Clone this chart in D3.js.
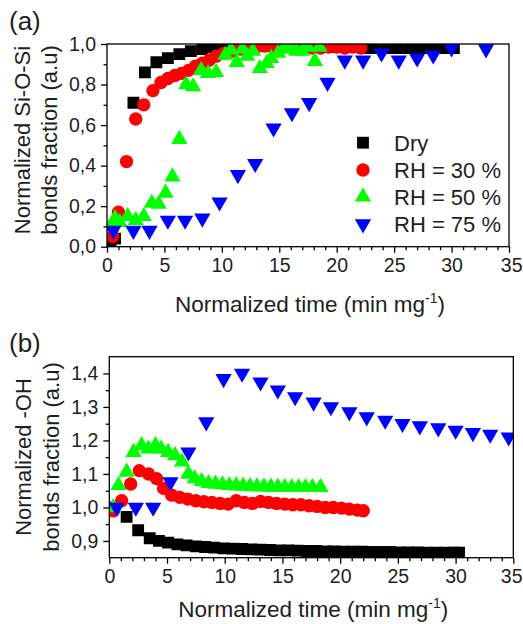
<!DOCTYPE html>
<html>
<head>
<meta charset="utf-8">
<script src="https://cdn.jsdelivr.net/npm/d3@7"></script>
<style>
  html, body { margin: 0; padding: 0; background: #fff; }
  svg { display: block; font-family: "Liberation Sans", Arial, sans-serif; }
</style>
</head>
<body>
<svg id="chart" width="523" height="624"></svg>
<script>
// ---------------- DATA ----------------
const seriesNames = ["Dry", "RH = 30 %", "RH = 50 %", "RH = 75 %"];
const seriesColors = ["#000000", "#ff0000", "#00ff00", "#0000ff"];

// Panel (a): Normalized Si-O-Si bonds fraction
const dryA_x = [0.3, 0.7, 2.3, 3.3, 4.3, 5.3, 6.3, 7.3, 8.3, 9.3, 10.3, 11.3, 12.3, 13.3, 14.3, 15.3, 16.3, 17.3, 18.3, 19.3, 20.3, 21.3, 22.3, 23.3, 24.3, 25.3, 26.3, 27.3, 28.3, 29.3, 30.2];
const dryA_y = [0.02, 0.04, 0.71, 0.86, 0.91, 0.93, 0.95, 0.965, 0.975, 0.985, 0.99, 0.99, 0.99, 0.99, 0.99, 0.99, 0.99, 0.99, 0.985, 0.985, 0.985, 0.985, 0.98, 0.98, 0.98, 0.98, 0.98, 0.98, 0.98, 0.98, 0.98];

const rh30A_x = [0.5, 1.0, 1.7, 2.5, 3.2, 4.0, 4.7, 5.3, 5.9, 6.5, 7.1, 7.7, 8.3, 8.9, 9.5, 10.2, 10.9, 11.6, 12.3, 13.0, 13.7, 14.4, 15.1, 15.8, 16.5, 17.2, 17.9, 18.6, 19.3, 20.0, 20.7, 21.4, 22.1];
const rh30A_y = [0.05, 0.17, 0.42, 0.63, 0.70, 0.77, 0.81, 0.83, 0.845, 0.855, 0.87, 0.89, 0.905, 0.92, 0.94, 0.955, 0.965, 0.975, 0.98, 0.985, 0.99, 0.985, 0.985, 0.99, 0.99, 0.985, 0.98, 0.98, 0.985, 0.985, 0.98, 0.985, 0.98];

const rh50A_x = [0.3, 0.7, 1.1, 1.8, 2.5, 3.2, 3.9, 4.5, 5.1, 5.7, 6.3, 6.9, 7.5, 8.2, 8.8, 9.5, 10.3, 10.8, 11.3, 11.8, 12.2, 12.7, 13.3, 13.9, 14.3, 14.9, 15.5, 16.0, 16.5, 17.0, 17.5, 18.1, 18.5];
const rh50A_y = [0.10, 0.14, 0.12, 0.15, 0.13, 0.15, 0.215, 0.21, 0.265, 0.345, 0.53, 0.80, 0.79, 0.87, 0.855, 0.86, 0.945, 0.97, 0.91, 0.975, 0.94, 0.965, 0.88, 0.905, 0.93, 0.955, 0.985, 0.975, 0.965, 0.965, 0.985, 0.915, 0.985];

const rh75A_x = [0.55, 2.3, 3.7, 5.3, 6.8, 8.3, 9.8, 11.4, 12.9, 14.5, 16.1, 17.6, 19.2, 20.7, 22.3, 23.9, 25.4, 27.0, 28.4, 30.0, 33.0];
const rh75A_y = [0.08, 0.08, 0.08, 0.13, 0.13, 0.14, 0.22, 0.355, 0.41, 0.585, 0.66, 0.71, 0.81, 0.92, 0.92, 0.955, 0.92, 0.93, 0.945, 0.98, 0.975];

// Panel (b): Normalized -OH bonds fraction
const dryB_x = [0.4, 1.5, 2.5, 3.5, 4.3, 5.1, 5.9, 6.7, 7.5, 8.3, 9.1, 9.9, 10.7, 11.5, 12.3, 13.1, 13.9, 14.7, 15.5, 16.3, 17.1, 17.9, 18.7, 19.5, 20.3, 21.1, 21.9, 22.7, 23.5, 24.3, 25.1, 25.9, 26.7, 27.5, 28.3, 29.1, 29.9, 30.3];
const dryB_y = [1.0, 0.972, 0.932, 0.908, 0.90, 0.895, 0.89, 0.887, 0.884, 0.882, 0.88, 0.878, 0.877, 0.876, 0.875, 0.874, 0.873, 0.872, 0.872, 0.871, 0.87, 0.87, 0.869, 0.869, 0.868, 0.868, 0.868, 0.867, 0.867, 0.867, 0.866, 0.866, 0.866, 0.865, 0.865, 0.865, 0.865, 0.865];

const rh30B_x = [0.35, 1.07, 1.85, 2.6, 3.4, 4.1, 4.7, 5.4, 6.1, 6.8, 7.5, 8.2, 8.9, 9.6, 10.3, 11.0, 11.7, 12.4, 13.1, 13.8, 14.5, 15.2, 15.9, 16.6, 17.3, 18.0, 18.7, 19.4, 20.1, 20.8, 21.5, 22.0];
const rh30B_y = [0.99, 1.02, 1.07, 1.11, 1.10, 1.086, 1.057, 1.037, 1.03, 1.025, 1.02, 1.017, 1.015, 1.012, 1.01, 1.02, 1.015, 1.012, 1.018, 1.015, 1.012, 1.01, 1.008, 1.008, 1.005, 1.003, 1.0, 1.0, 0.998, 0.995, 0.992, 0.99];

const rh50B_x = [0.35, 0.8, 1.5, 2.1, 2.8, 3.4, 4.0, 4.5, 5.1, 5.7, 6.3, 6.85, 7.4, 8.0, 8.6, 9.2, 9.8, 10.4, 11.0, 11.6, 12.2, 12.8, 13.4, 14.0, 14.6, 15.2, 15.8, 16.4, 17.0, 17.6, 18.3];
const rh50B_y = [1.0, 1.066, 1.106, 1.165, 1.185, 1.175, 1.185, 1.175, 1.165, 1.155, 1.136, 1.10, 1.086, 1.078, 1.072, 1.07, 1.068, 1.066, 1.065, 1.064, 1.063, 1.062, 1.062, 1.061, 1.061, 1.06, 1.06, 1.06, 1.06, 1.06, 1.06];

const rh75B_x = [0.64, 2.3, 3.8, 5.3, 6.85, 8.4, 9.9, 11.5, 13.1, 14.6, 16.1, 17.7, 19.2, 20.8, 22.3, 23.9, 25.4, 26.9, 28.5, 30.0, 31.5, 33.0, 34.6];
const rh75B_y = [1.0, 1.0, 1.0, 1.076, 1.165, 1.255, 1.384, 1.40, 1.374, 1.35, 1.33, 1.314, 1.30, 1.285, 1.27, 1.26, 1.25, 1.243, 1.237, 1.23, 1.223, 1.218, 1.21];

const xTicks = [0, 5, 10, 15, 20, 25, 30, 35];
const yTicksA = [0.0, 0.2, 0.4, 0.6, 0.8, 1.0];
const yTicksB = [0.9, 1.0, 1.1, 1.2, 1.3, 1.4];
const xTitle = "Normalized time (min mg";
const yTitleA = ["Normalized Si-O-Si", "bonds fraction (a.u)"];
const yTitleB = ["Normalized -OH", "bonds fraction (a.u)"];

// ---------------- DRAWING ----------------
const svg = d3.select("#chart");
svg.append("rect").attr("width", 523).attr("height", 624).attr("fill", "#fff");

const symTypes = ["square", "circle", "up", "down"];
function symbolPath(kind) {
  if (kind === "square") return d3.symbol().type(d3.symbolSquare).size(140)();
  if (kind === "circle") return d3.symbol().type(d3.symbolCircle).size(140)();
  return d3.symbol().type(d3.symbolTriangle).size(115)();
}
function drawMarker(g, kind, color, x, y) {
  g.append("path")
    .attr("d", symbolPath(kind))
    .attr("fill", color)
    .attr("transform", `translate(${x},${y})` + (kind === "down" ? " rotate(180)" : ""));
}
const fmt = v => d3.format(".1f")(v).replace(".", ",");
const TXT = "#1e1e1e";

function panel(opts) {
  const g = svg.append("g");
  const x = d3.scaleLinear().domain([0, 35]).range([opts.x0, opts.x1]);
  const y = d3.scaleLinear().domain(opts.yDomain).range([opts.yBottom, opts.yTop]);

  const clipId = "clip" + opts.id;
  svg.append("clipPath").attr("id", clipId).append("rect")
    .attr("x", opts.x0).attr("y", opts.yTop)
    .attr("width", opts.x1 - opts.x0).attr("height", opts.yBottom - opts.yTop);

  const marks = g.append("g").attr("clip-path", `url(#${clipId})`);
  opts.series.forEach((s, i) => {
    s.x.forEach((xv, j) => {
      drawMarker(marks, symTypes[i], seriesColors[i], x(xv), y(s.y[j]));
    });
  });

  g.append("rect").attr("x", opts.x0).attr("y", opts.yTop)
    .attr("width", opts.x1 - opts.x0).attr("height", opts.yBottom - opts.yTop)
    .attr("fill", "none").attr("stroke", "#000").attr("stroke-width", 1.3);

  const xMinor = d3.range(0, 36, 1).filter(v => v % 5 !== 0);
  const xa = g.append("g").attr("transform", `translate(0,${opts.yBottom})`);
  xa.call(d3.axisBottom(x).tickValues(xMinor).tickSize(3.5).tickFormat(""));
  xa.select(".domain").remove();
  const xb = g.append("g").attr("transform", `translate(0,${opts.yBottom})`);
  xb.call(d3.axisBottom(x).tickValues(xTicks).tickSize(6).tickPadding(5).tickSizeOuter(0).tickFormat(d3.format("d")));
  xb.select(".domain").remove();
  xb.selectAll("text").attr("font-size", 19.5).attr("font-family", "Liberation Sans, Arial, sans-serif").attr("fill", TXT);
  // keep the last label inside the page
  xb.selectAll(".tick").filter(d => d === 35).select("text")
    .attr("text-anchor", "end").attr("x", 522 - opts.x1);

  const ya = g.append("g").attr("transform", `translate(${opts.x0},0)`);
  ya.call(d3.axisLeft(y).tickValues(opts.yMinor).tickSize(3.5).tickFormat(""));
  ya.select(".domain").remove();
  const yb = g.append("g").attr("transform", `translate(${opts.x0},0)`);
  yb.call(d3.axisLeft(y).tickValues(opts.yTicks).tickSize(6).tickPadding(5).tickFormat(fmt));
  yb.select(".domain").remove();
  yb.selectAll("text").attr("font-size", 19.5).attr("font-family", "Liberation Sans, Arial, sans-serif").attr("fill", TXT);
  g.selectAll(".tick line").attr("stroke", "#000").attr("stroke-width", 1.3);

  const xt = g.append("text")
    .attr("x", (opts.x0 + opts.x1) / 2 + 2).attr("y", opts.xTitleY)
    .attr("text-anchor", "middle").attr("font-size", 22.5).attr("fill", TXT);
  xt.append("tspan").text(xTitle);
  xt.append("tspan").attr("font-size", 14).attr("dy", -9).text("-1");
  xt.append("tspan").attr("dy", 9).text(")");

  const yc = opts.yTitleCenter;
  opts.yTitle.forEach((t, i) => {
    g.append("text")
      .attr("transform", `translate(${opts.yTitleX[i]},${yc}) rotate(-90)`)
      .attr("text-anchor", "middle").attr("font-size", 22).attr("fill", TXT)
      .text(t);
  });

  g.append("text").attr("x", 9).attr("y", opts.labelY)
    .attr("font-size", 26).attr("fill", TXT).text(opts.label);
  return { x, y, g };
}

panel({
  id: "a", x0: 107, x1: 509, yTop: 44, yBottom: 246.7, yDomain: [0, 1.0],
  yTicks: yTicksA, yMinor: [0.1, 0.3, 0.5, 0.7, 0.9],
  series: [
    { x: dryA_x, y: dryA_y }, { x: rh30A_x, y: rh30A_y },
    { x: rh50A_x, y: rh50A_y }, { x: rh75A_x, y: rh75A_y }
  ],
  xTitleY: 312, yTitle: yTitleA, yTitleX: [30, 57], yTitleCenter: 140,
  label: "(a)", labelY: 30
});

panel({
  id: "b", x0: 109.3, x1: 513.3, yTop: 356.7, yBottom: 557.7, yDomain: [0.85, 1.45],
  yTicks: yTicksB, yMinor: [0.95, 1.05, 1.15, 1.25, 1.35],
  series: [
    { x: dryB_x, y: dryB_y }, { x: rh30B_x, y: rh30B_y },
    { x: rh50B_x, y: rh50B_y }, { x: rh75B_x, y: rh75B_y }
  ],
  xTitleY: 617, yTitle: yTitleB, yTitleX: [31, 59], yTitleCenter: 457,
  label: "(b)", labelY: 352
});

const legY = [142.7, 170, 196.7, 224];
const leg = svg.append("g");
seriesNames.forEach((n, i) => {
  drawMarker(leg, symTypes[i], seriesColors[i], 363, legY[i]);
  leg.append("text").attr("x", 394).attr("y", legY[i] + 8)
    .attr("font-size", 22).attr("fill", TXT).text(n);
});
</script>
</body>
</html>
